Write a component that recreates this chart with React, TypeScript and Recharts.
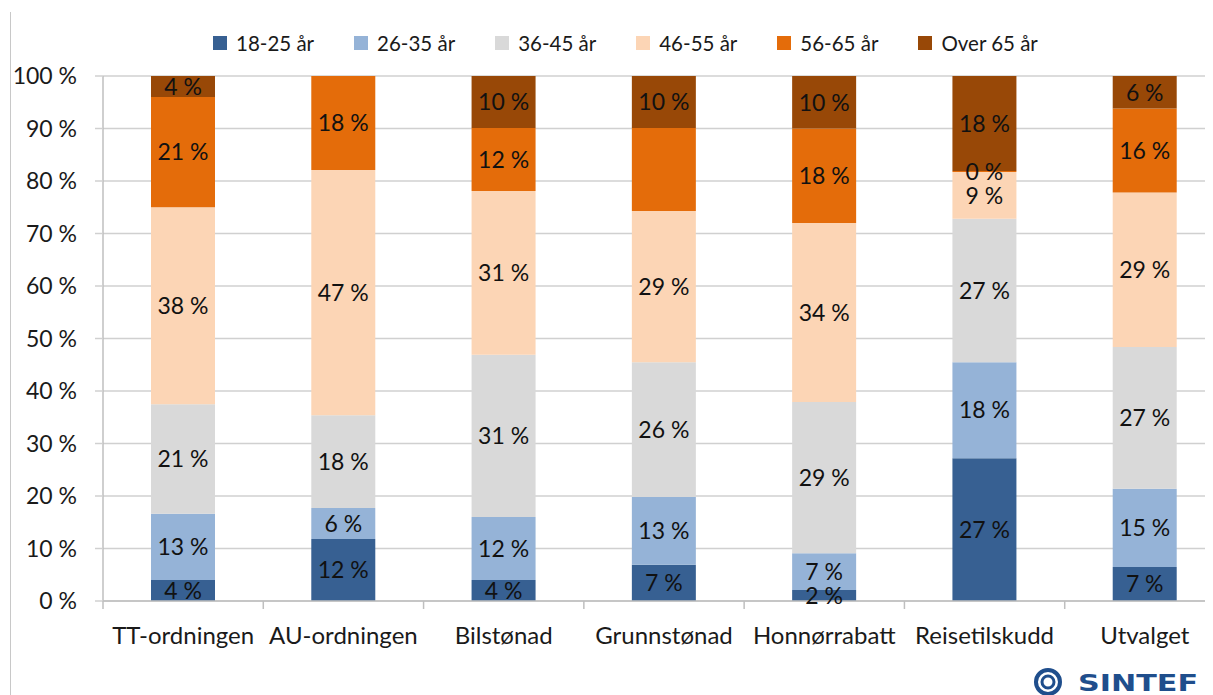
import React from "react";
import { BarChart, Bar, XAxis, YAxis, CartesianGrid, LabelList } from "recharts";

const categories = [
  "TT-ordningen",
  "AU-ordningen",
  "Bilstønad",
  "Grunnstønad",
  "Honnørrabatt",
  "Reisetilskudd",
  "Utvalget",
];

const seriesNames = ["18-25 år", "26-35 år", "36-45 år", "46-55 år", "56-65 år", "Over 65 år"];
const seriesColors = ["#376092", "#95B3D7", "#D9D9D9", "#FCD5B5", "#E46C0A", "#984807"];

// share per age group, one array per category
const ttOrdningen = [4, 12.6, 20.9, 37.5, 21, 4];
const auOrdningen = [11.8, 5.9, 17.7, 46.7, 17.9, 0];
const bilstonad = [4, 12, 30.9, 31.2, 12, 9.9];
const grunnstonad = [6.9, 12.9, 25.7, 28.8, 15.8, 9.9];
const honnorrabatt = [2.1, 7, 28.8, 34.1, 18, 10];
const reisetilskudd = [27.2, 18.3, 27.3, 8.9, 0.2, 18.1];
const utvalget = [6.5, 14.9, 27, 29.4, 16, 6.2];

const yTicks = [0, 0.1, 0.2, 0.3, 0.4, 0.5, 0.6, 0.7, 0.8, 0.9, 1];

// segments without a data label in the original
const hiddenLabels: [string, number][] = [
  ["AU-ordningen", 5],
  ["Grunnstønad", 4],
];

const rows = [ttOrdningen, auOrdningen, bilstonad, grunnstonad, honnorrabatt, reisetilskudd, utvalget];

const data = categories.map((name, i) => {
  const row: Record<string, any> = { name };
  seriesNames.forEach((s, j) => {
    row["s" + j] = rows[i][j];
  });
  return row;
});

const FONT = "Lato, 'Open Sans', sans-serif";
const CHART_W = 1217;
const CHART_H = 687;
const Y_AXIS_W = 95;
const BAND = (CHART_W - Y_AXIS_W) / categories.length;

const XTick = (props: any) => {
  const { x, y, payload } = props;
  const axisY = y - 18;
  return (
    <g>
      <line
        x1={x - BAND / 2}
        x2={x - BAND / 2}
        y1={axisY}
        y2={axisY + 8}
        stroke="#BFBFBF"
        strokeWidth={1.5}
      />
      <text x={x} y={axisY + 43} textAnchor="middle" fill="#1a1a1a" fontSize={24} fontFamily={FONT}>
        {payload.value}
      </text>
    </g>
  );
};

const makeLabel = (seriesIdx: number) => (props: any) => {
  const { x, y, width, height, value } = props;
  const catIdx = Math.floor((x + width / 2 - Y_AXIS_W) / BAND);
  const cat = categories[catIdx];
  if (hiddenLabels.some(([c, s]) => c === cat && s === seriesIdx)) return null;
  return (
    <text
      x={x + width / 2}
      y={y + height / 2}
      dy="0.36em"
      textAnchor="middle"
      fill="#111"
      fontSize={23}
      fontFamily={FONT}
    >
      {Math.round(value) + " %"}
    </text>
  );
};

export default function App() {
  return (
    <div style={{ position: "relative", width: 1205, height: CHART_H, overflow: "hidden", background: "#fff" }}>
      <div style={{ position: "absolute", left: 2, top: 4, width: 1, height: CHART_H, background: "#C8C8C8" }} />
      <div
        style={{
          position: "absolute",
          left: 205,
          top: 23,
          display: "flex",
          fontFamily: FONT,
          fontSize: 20.5,
          color: "#1a1a1a",
          zIndex: 2,
        }}
      >
        {seriesNames.map((s, i) => (
          <div key={s} style={{ display: "flex", alignItems: "center", marginRight: 40 }}>
            <span style={{ width: 14, height: 14, background: seriesColors[i], marginRight: 9, display: "inline-block" }} />
            <span>{s}</span>
          </div>
        ))}
      </div>
      <BarChart
        width={CHART_W}
        height={CHART_H}
        data={data}
        stackOffset="expand"
        barSize={64}
        margin={{ top: 68, right: 0, bottom: 34, left: 0 }}
      >
        <CartesianGrid vertical={false} stroke="#D0D0D0" strokeWidth={1.5} />
        <XAxis
          dataKey="name"
          height={60}
          tickLine={false}
          tickSize={8}
          tickMargin={10}
          axisLine={{ stroke: "#BFBFBF", strokeWidth: 1.5 }}
          tick={<XTick />}
          interval={0}
        />
        <YAxis
          width={Y_AXIS_W}
          domain={[0, 1]}
          ticks={yTicks}
          tickFormatter={(v: number) => Math.round(v * 100) + " %"}
          tickSize={8}
          tickMargin={18}
          tickLine={{ stroke: "#D0D0D0", strokeWidth: 1.5 }}
          axisLine={{ stroke: "#BFBFBF", strokeWidth: 1.5 }}
          tick={{ fill: "#1a1a1a", fontSize: 23, fontFamily: FONT }}
        />
        {seriesNames.map((s, i) => (
          <Bar key={s} dataKey={"s" + i} name={s} stackId="a" fill={seriesColors[i]} isAnimationActive={false}>
            <LabelList dataKey={"s" + i} content={makeLabel(i)} />
          </Bar>
        ))}
      </BarChart>
      <svg style={{ position: "absolute", left: 1010, top: 658 }} width={195} height={29}>
        <circle cx={30} cy={16} r={12} fill="none" stroke="#1F4E8C" strokeWidth={4} />
        <circle cx={30} cy={16} r={6} fill="none" stroke="#1F4E8C" strokeWidth={3} />
        <text
          x={60}
          y={25}
          fill="#1F4E8C"
          fontSize={23}
          fontWeight="bold"
          fontFamily="'DejaVu Sans', sans-serif"
          textLength={120}
          lengthAdjust="spacingAndGlyphs"
        >
          SINTEF
        </text>
      </svg>
    </div>
  );
}
